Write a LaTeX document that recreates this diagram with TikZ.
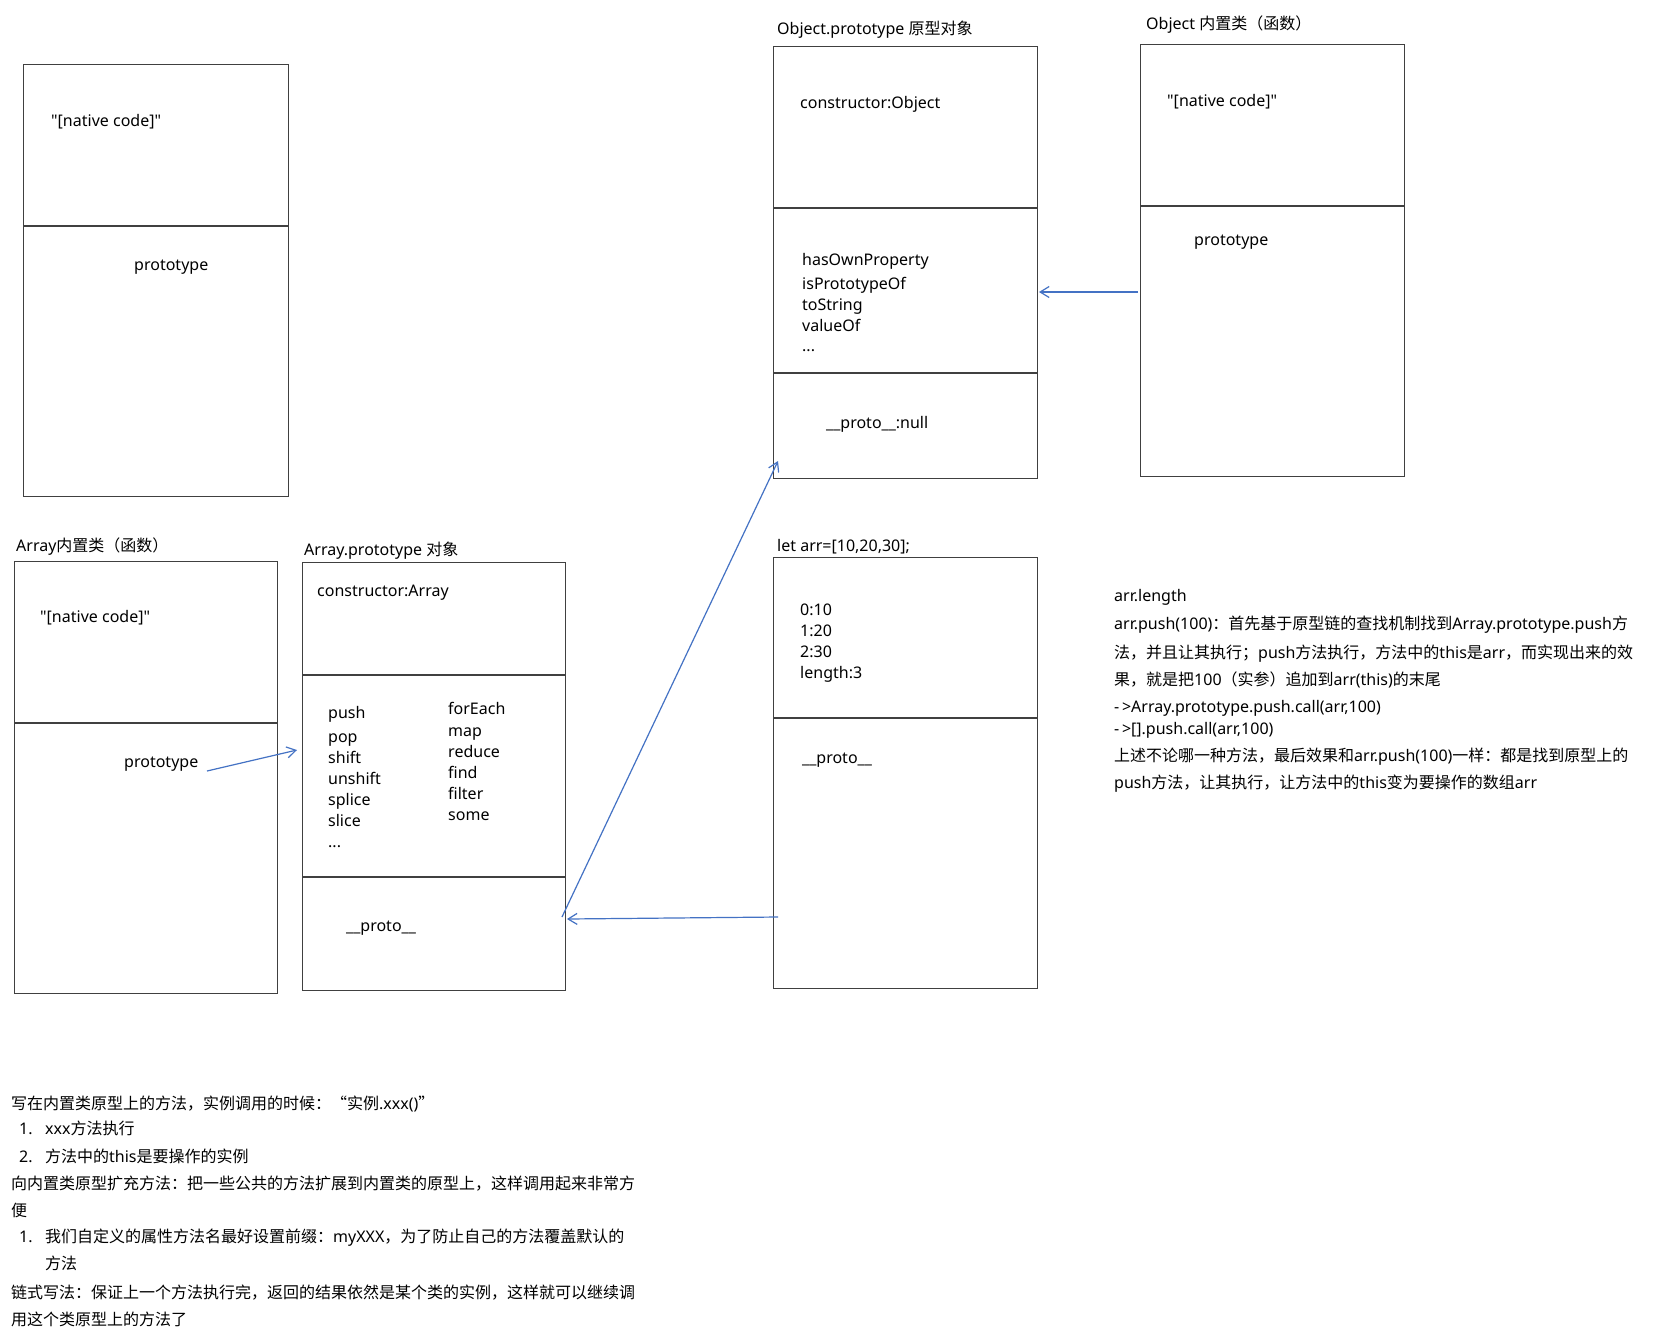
\documentclass[tikz,border=0pt]{standalone}
\usepackage{fontspec}
\setmainfont{Noto Sans}[Ligatures=TeXOff]
\newfontfamily\cjkfont{Noto Sans CJK SC}
\usetikzlibrary{arrows.meta}
\XeTeXinterchartokenstate=1
\newXeTeXintercharclass\cjkclass
\makeatletter
\count@="3000
\loop\ifnum\count@<"3040 \XeTeXcharclass\count@=\cjkclass\relax\advance\count@\@ne\repeat
\count@="4E00
\loop\ifnum\count@<"A000 \XeTeXcharclass\count@=\cjkclass\relax\advance\count@\@ne\repeat
\count@="FF00
\loop\ifnum\count@<"FFF0 \XeTeXcharclass\count@=\cjkclass\relax\advance\count@\@ne\repeat
\XeTeXcharclass"201C=\cjkclass\relax
\XeTeXcharclass"201D=\cjkclass\relax
\makeatother
\XeTeXinterchartoks 0 \cjkclass={\begingroup\cjkfont}
\XeTeXinterchartoks 4095 \cjkclass={\begingroup\cjkfont}
\XeTeXinterchartoks \cjkclass 0={\endgroup}
\XeTeXinterchartoks \cjkclass 4095={\endgroup}
\newcommand\dq{\char"22\relax}
\definecolor{boxgray}{HTML}{404040}
\definecolor{arrowblue}{HTML}{4472C4}
\tikzset{
  box/.style={draw=boxgray, line width=1.3pt, inner sep=0pt, anchor=north west},
  divline/.style={draw=boxgray, line width=1.3pt},
  txt/.style={anchor=base west, inner sep=0pt, font=\fontsize{16pt}{19pt}\selectfont},
  link/.style={draw=arrowblue, line width=1.2pt, -{Straight Barb[length=9pt,width=11pt]}}
}
\begin{document}
\begin{tikzpicture}[x=1pt,y=-1pt]
\fill[white] (0,0) rectangle (1654,1342);
\path[use as bounding box] (0,0) rectangle (1654,1342);

% ---------- boxes ----------
\node[box, minimum width=265pt, minimum height=432pt] (fnA) at (23,64) {};
\draw[divline] (fnA.west |- 0,226) -- (fnA.east |- 0,226);

\node[box, minimum width=264pt, minimum height=432pt] (op) at (773,46) {};
\draw[divline] (op.west |- 0,208) -- (op.east |- 0,208);
\draw[divline] (op.west |- 0,373) -- (op.east |- 0,373);

\node[box, minimum width=264pt, minimum height=432pt] (fnO) at (1140,44) {};
\draw[divline] (fnO.west |- 0,206) -- (fnO.east |- 0,206);

\node[box, minimum width=263pt, minimum height=432pt] (fnArr) at (14,561) {};
\draw[divline] (fnArr.west |- 0,723) -- (fnArr.east |- 0,723);

\node[box, minimum width=263pt, minimum height=428pt] (ap) at (302,562) {};
\draw[divline] (ap.west |- 0,675) -- (ap.east |- 0,675);
\draw[divline] (ap.west |- 0,877) -- (ap.east |- 0,877);

\node[box, minimum width=264pt, minimum height=431pt] (arrObj) at (773,557) {};
\draw[divline] (arrObj.west |- 0,718) -- (arrObj.east |- 0,718);

% ---------- box A ----------
\node[txt] (aNative) at (51,126) {\dq[native code]\dq};
\node[txt] (aProto) at (134,270) {prototype};

% ---------- Object.prototype ----------
\node[txt] (opTitle) at (777,34) {Object.prototype 原型对象};
\node[txt] (opCtor) at (800,108) {constructor:Object};
\node[txt] (opM1) at (802,265) {hasOwnProperty};
\node[txt] (opM2) at (802,289) {isPrototypeOf};
\node[txt] (opM3) at (802,310) {toString};
\node[txt] (opM4) at (802,331) {valueOf};
\node[txt] (opM5) at (802,351) {...};
\node[txt] (opProto) at (826,428) {\_\_proto\_\_:null};

% ---------- Object ----------
\node[txt] (oTitle) at (1146,29) {Object 内置类（函数）};
\node[txt] (oNative) at (1167,106) {\dq[native code]\dq};
\node[txt] (oProto) at (1194,245) {prototype};

% ---------- Array ----------
\node[txt] (arTitle) at (16,551) {Array内置类（函数）};
\node[txt] (arNative) at (40,622) {\dq[native code]\dq};
\node[txt] (arProto) at (124,767) {prototype};

% ---------- Array.prototype ----------
\node[txt] (apTitle) at (304,555) {Array.prototype 对象};
\node[txt] (apCtor) at (317,596) {constructor:Array};
\node[txt] (apL1) at (328,718) {push};
\node[txt] (apL2) at (328,742) {pop};
\node[txt] (apL3) at (328,763) {shift};
\node[txt] (apL4) at (328,784) {unshift};
\node[txt] (apL5) at (328,805) {splice};
\node[txt] (apL6) at (328,826) {slice};
\node[txt] (apL7) at (328,847) {...};
\node[txt] (apR1) at (448,714) {forEach};
\node[txt] (apR2) at (448,736) {map};
\node[txt] (apR3) at (448,757) {reduce};
\node[txt] (apR4) at (448,778) {find};
\node[txt] (apR5) at (448,799) {filter};
\node[txt] (apR6) at (448,820) {some};
\node[txt] (apProto) at (346,931) {\_\_proto\_\_};

% ---------- arr ----------
\node[txt] (arrTitle) at (777,551) {let arr=[10,20,30];};
\node[txt] (arrV1) at (800,615) {0:10};
\node[txt] (arrV2) at (800,636) {1:20};
\node[txt] (arrV3) at (800,657) {2:30};
\node[txt] (arrV4) at (800,678) {length:3};
\node[txt] (arrProto) at (802,763) {\_\_proto\_\_};

% ---------- right notes ----------
\node[txt] (n1) at (1114,601) {arr.length};
\node[txt] (n2) at (1114,629) {arr.push(100)：首先基于原型链的查找机制找到Array.prototype.push方};
\node[txt] (n3) at (1114,658) {法，并且让其执行；push方法执行，方法中的this是arr，而实现出来的效};
\node[txt] (n4) at (1114,685) {果，就是把100（实参）追加到arr(this)的末尾};
\node[txt] (n5) at (1114,712) {-\,>Array.prototype.push.call(arr,100)};
\node[txt] (n6) at (1114,734) {-\,>[].push.call(arr,100)};
\node[txt] (n7) at (1114,761) {上述不论哪一种方法，最后效果和arr.push(100)一样：都是找到原型上的};
\node[txt] (n8) at (1114,788) {push方法，让其执行，让方法中的this变为要操作的数组arr};

% ---------- bottom notes ----------
\node[txt] (b1) at (11,1109) {写在内置类原型上的方法，实例调用的时候：“实例.xxx()”};
\node[txt] (b2n) at (19,1134) {1.};
\node[txt] (b2) at (45,1134) {xxx方法执行};
\node[txt] (b3n) at (19,1162) {2.};
\node[txt] (b3) at (45,1162) {方法中的this是要操作的实例};
\node[txt] (b4) at (11,1189) {向内置类原型扩充方法：把一些公共的方法扩展到内置类的原型上，这样调用起来非常方};
\node[txt] (b5) at (11,1216) {便};
\node[txt] (b6n) at (19,1242) {1.};
\node[txt] (b6) at (45,1242) {我们自定义的属性方法名最好设置前缀：myXXX，为了防止自己的方法覆盖默认的};
\node[txt] (b7) at (45,1269) {方法};
\node[txt] (b8) at (11,1298) {链式写法：保证上一个方法执行完，返回的结果依然是某个类的实例，这样就可以继续调};
\node[txt] (b9) at (11,1325) {用这个类原型上的方法了};

% ---------- connector end points ----------
\coordinate (cOsrc) at (1138,292);
\coordinate (cOdst) at (1039,292);
\coordinate (cArSrc) at (207,771);
\coordinate (cArDst) at (297,750);
\coordinate (cApSrc) at (562,917);
\coordinate (cApDst) at (778,461);
\coordinate (cArrSrc) at (778,917);
\coordinate (cArrDst) at (567,919);

\draw[link] (cOsrc) -- (cOdst);
\draw[link] (cArSrc) -- (cArDst);
\draw[link] (cApSrc) -- (cApDst);
\draw[link] (cArrSrc) -- (cArrDst);
\end{tikzpicture}
\end{document}
